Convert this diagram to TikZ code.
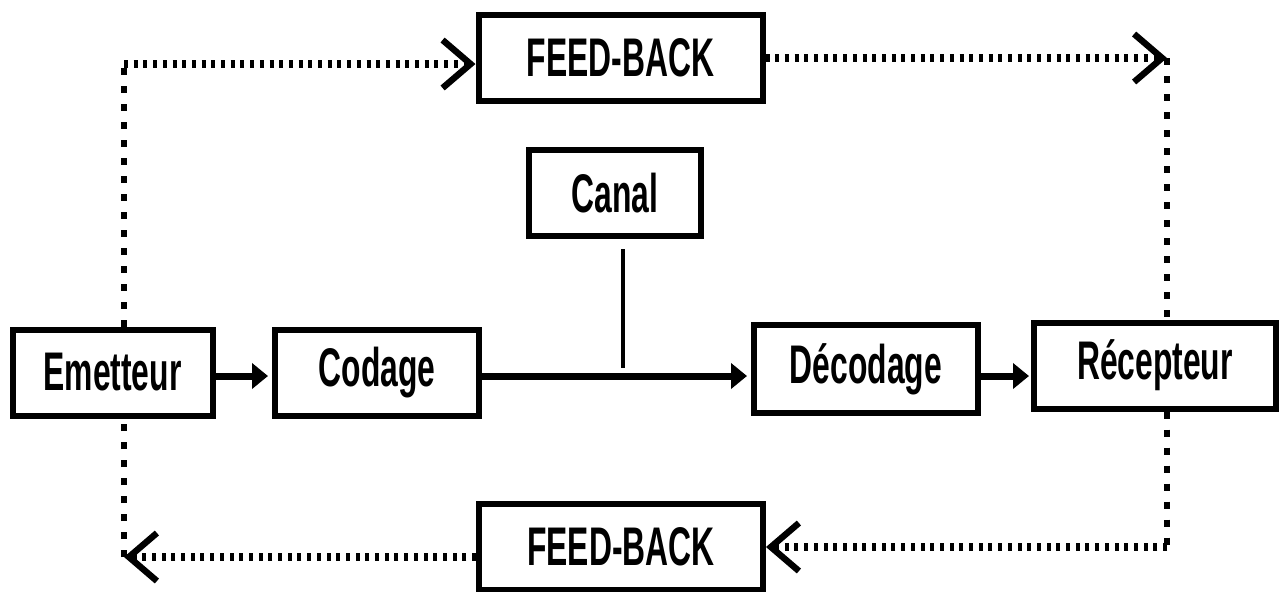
\documentclass[tikz,border=0pt]{standalone}
\usepackage{fontspec}
\setmainfont{Liberation Sans}[FakeStretch=0.585]
\usetikzlibrary{arrows.meta}
\begin{document}
\begin{tikzpicture}[x=0.5pt,y=-0.5pt,
  box/.style={draw=black, line width=3pt, inner sep=0pt, minimum height=43pt,
    font=\fontsize{27.2}{30}\selectfont\bfseries},
  solidarrow/.style={line width=3.5pt, -{Triangle[length=8pt,width=12.5pt]}},
  canalline/.style={line width=2pt},
  chev/.style={-{Straight Barb[length=14pt,width=24pt,line width=3.2pt]}},
  doth/.style={line width=3.8pt, dash pattern=on 2pt off 2.85pt},
  dotv/.style={line width=2.6pt, dash pattern=on 3.5pt off 5.5pt}]
\useasboundingbox (0,0) rectangle (1280,591);
% boxes
\node[box, minimum width=142pt] (fbtop) at (620.5,57.5) {FEED-BACK};
\node[box, minimum width=86pt] (canal) at (615,193) {Canal};
\node[box, minimum width=100pt] (emetteur) at (112.5,372.5) {Emetteur};
\node[box, minimum width=102pt] (codage) at (377,372.5) {Codage};
\node[box, minimum width=112pt, minimum height=44pt] (decodage) at (866,369) {Décodage};
\node[box, minimum width=121pt] (recepteur) at (1155,365.5) {Récepteur};
\node[box, minimum width=142pt] (fbbot) at (621,547) {FEED-BACK};
% main flow
\coordinate (mainy) at (0,376);
\coordinate (cj) at (623,376);
\draw[solidarrow, shorten >=2pt] (emetteur.east |- mainy) -- (codage.west |- mainy);
\draw[solidarrow, shorten >=2pt] (codage.east |- mainy) -- (decodage.west |- mainy);
\draw[solidarrow, shorten >=1pt] (decodage.east |- mainy) -- (recepteur.west |- mainy);
\draw[canalline] ([yshift=-5pt]canal.south -| cj) -- ([yshift=4pt]cj);
% feedback loops
\coordinate (c1) at (124,64);
\coordinate (c2) at (1167,58);
\coordinate (c3) at (1167,547);
\coordinate (c4) at (124,557);
\draw[dotv] (emetteur.north -| c1) -- (c1);
\draw[doth, chev] (c1) -- (fbtop.west |- c1);
\draw[doth, chev] (fbtop.east |- c2) -- (c2);
\draw[dotv] (c2) -- (recepteur.north -| c2);
\draw[dotv] (recepteur.south -| c3) -- (c3);
\draw[doth, chev] (c3) -- (fbbot.east |- c3);
\draw[doth, chev] (fbbot.west |- c4) -- (c4);
\draw[dotv] (c4) -- (emetteur.south -| c4);
\end{tikzpicture}
\end{document}
